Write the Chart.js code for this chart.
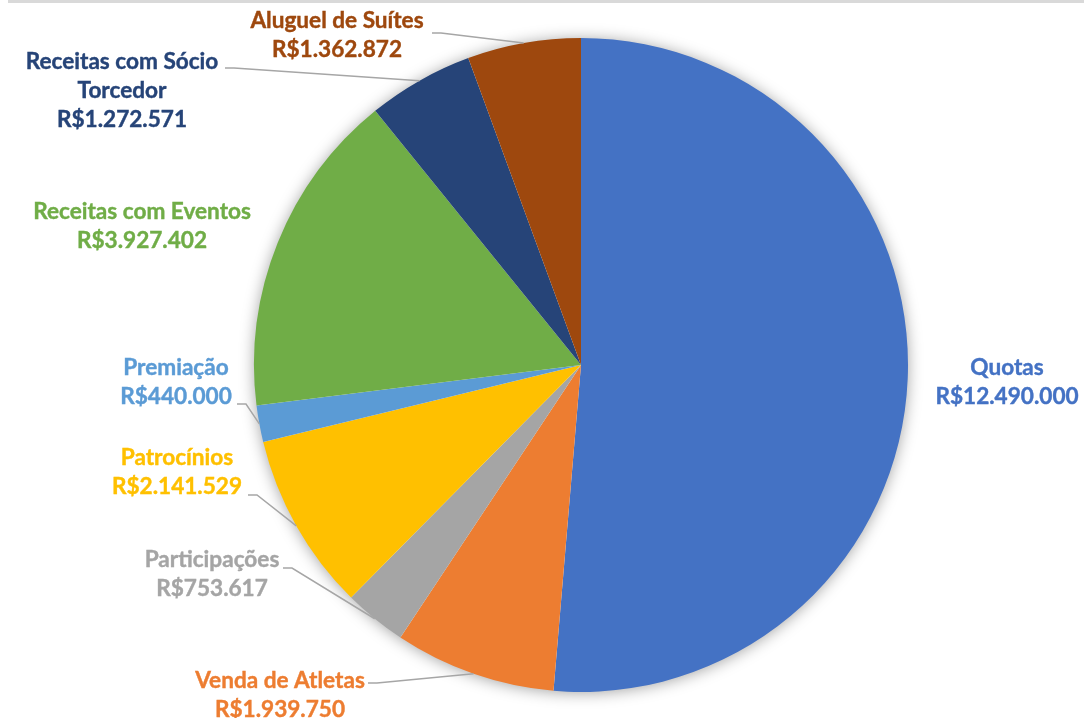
<!DOCTYPE html>
<html>
<head>
<meta charset="utf-8">
<script src="https://cdn.jsdelivr.net/npm/chart.js@4/dist/chart.umd.min.js"></script>
<style>
  html, body { margin: 0; padding: 0; background: #fff; }
  #wrap { position: relative; width: 1084px; height: 718px; }
  #topbar { position: absolute; left: 8px; top: 0; width: 1076px; height: 3px; background: #d9d9d9; }
  canvas { position: absolute; left: 0; top: 0; }
</style>
</head>
<body>
<div id="wrap">
  <canvas id="c" width="1084" height="718"></canvas>
  <div id="topbar"></div>
</div>
<script>
// ---- data ----
const categories = ['Quotas', 'Venda de Atletas', 'Participações', 'Patrocínios', 'Premiação', 'Receitas com Eventos', 'Receitas com Sócio Torcedor', 'Aluguel de Suítes'];
const values = [12490000, 1939750, 753617, 2141529, 440000, 3927402, 1272571, 1362872];
const sliceColors = ['#4472C4', '#ED7D31', '#A5A5A5', '#FFC000', '#5B9BD5', '#70AD47', '#264478', '#9E480E'];

// ---- label layout (annotation placement, not data) ----
const labelCenters = [
  {x: 1007, y: 368}, {x: 280, y: 681}, {x: 212, y: 560}, {x: 177, y: 458},
  {x: 176, y: 368}, {x: 142, y: 212}, {x: 122, y: 62}, {x: 337, y: 21}
];
const labelWrap = [0, 0, 0, 0, 0, 0, 205, 0];
const leaderStarts = [null, {x: 368, y: 683}, {x: 283, y: 568}, {x: 248, y: 495}, {x: 237, y: 404}, null, {x: 225, y: 68}, {x: 432, y: 33}];
const labelFont = 'bold 22.6px Lato, "Open Sans", sans-serif';
const lineH = 29;

function fmtBRL(v) {
  const s = String(Math.round(v));
  return 'R$' + s.replace(/\B(?=(\d{3})+(?!\d))/g, '.');
}

function wrapText(ctx, text, maxW) {
  if (!maxW) return [text];
  const words = text.split(' ');
  const lines = [];
  let cur = '';
  for (const w of words) {
    const t = cur ? cur + ' ' + w : w;
    if (cur && ctx.measureText(t).width > maxW) { lines.push(cur); cur = w; }
    else cur = t;
  }
  if (cur) lines.push(cur);
  return lines;
}

const shadowPlugin = {
  id: 'pieShadow',
  beforeDatasetsDraw(chart) {
    const arc = chart.getDatasetMeta(0).data[0];
    if (!arc) return;
    const ctx = chart.ctx;
    ctx.save();
    ctx.shadowColor = 'rgba(0,0,0,0.4)';
    ctx.shadowBlur = 16;
    ctx.shadowOffsetX = 0;
    ctx.shadowOffsetY = 1;
    ctx.beginPath();
    ctx.arc(arc.x, arc.y, arc.outerRadius - 1, 0, Math.PI * 2);
    ctx.fillStyle = '#ffffff';
    ctx.fill();
    ctx.restore();
  }
};

const labelPlugin = {
  id: 'outLabels',
  afterDatasetsDraw(chart) {
    const ctx = chart.ctx;
    const meta = chart.getDatasetMeta(0);
    ctx.save();
    ctx.font = labelFont;
    ctx.textAlign = 'center';
    ctx.textBaseline = 'middle';
    meta.data.forEach((arc, i) => {
      const p = arc.getProps(['x', 'y', 'startAngle', 'endAngle', 'outerRadius'], true);
      const mid = (p.startAngle + p.endAngle) / 2;
      const ex = p.x + Math.cos(mid) * p.outerRadius;
      const ey = p.y + Math.sin(mid) * p.outerRadius;
      const ls = leaderStarts[i];
      if (ls) {
        ctx.beginPath();
        ctx.strokeStyle = '#a6a6a6';
        ctx.lineWidth = 1.5;
        ctx.moveTo(ls.x, ls.y);
        ctx.lineTo(ls.x + 9, ls.y);
        ctx.lineTo(ex, ey);
        ctx.stroke();
      }
      const lines = wrapText(ctx, categories[i], labelWrap[i]);
      lines.push(fmtBRL(values[i]));
      ctx.fillStyle = sliceColors[i];
      ctx.strokeStyle = sliceColors[i];
      ctx.lineWidth = 0.4;
      const c = labelCenters[i];
      lines.forEach((t, k) => {
        ctx.fillText(t, c.x, c.y + k * lineH);
        ctx.strokeText(t, c.x, c.y + k * lineH);
      });
    });
    ctx.restore();
  }
};

new Chart(document.getElementById('c'), {
  type: 'pie',
  data: {
    labels: categories,
    datasets: [{
      data: values,
      backgroundColor: sliceColors,
      borderWidth: 0
    }]
  },
  options: {
    responsive: false,
    animation: false,
    layout: { padding: { left: 254, right: 176, top: 38, bottom: 26 } },
    plugins: { legend: { display: false }, tooltip: { enabled: false } }
  },
  plugins: [shadowPlugin, labelPlugin]
});
</script>
</body>
</html>
